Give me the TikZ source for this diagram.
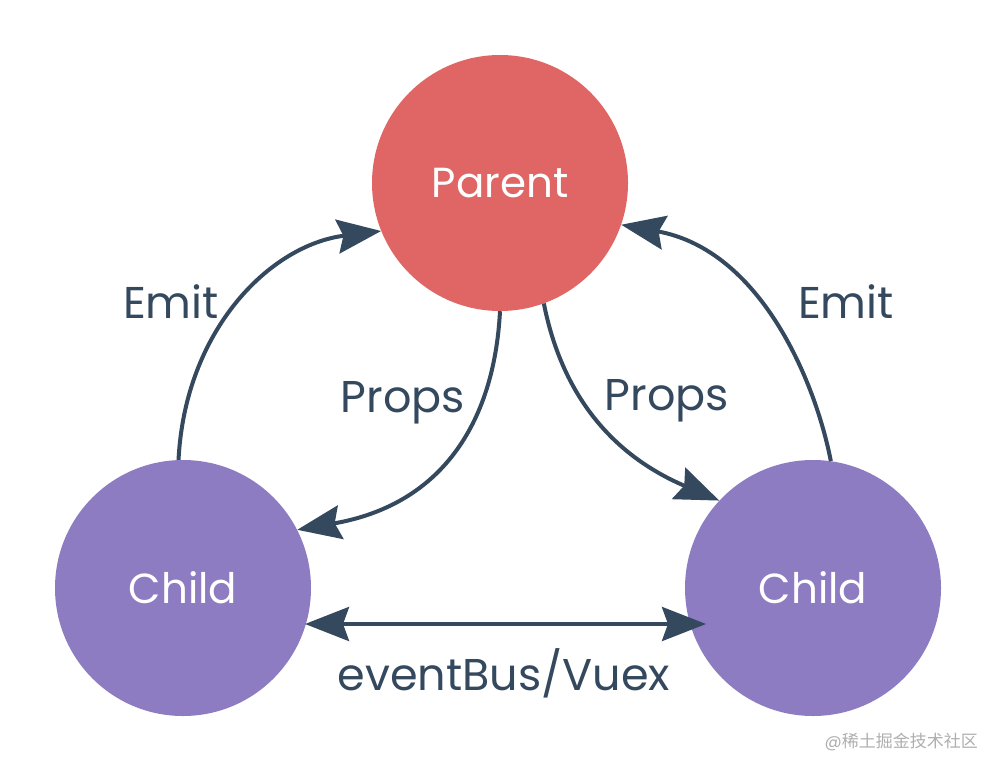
\documentclass[tikz,border=0pt]{standalone}
\usepackage{fontspec}
\setmainfont{Poppins}
\newfontfamily\cjk{Noto Sans CJK SC}
\usetikzlibrary{arrows.meta}
\definecolor{parentred}{RGB}{224,102,102}
\definecolor{childpurple}{RGB}{142,124,195}
\definecolor{ink}{RGB}{52,73,94}
\definecolor{wm}{RGB}{175,175,175}
\tikzset{
  headtip/.tip={Stealth[length=44pt, width=34pt, inset=6pt]},
  bubble/.style={circle, minimum size=256pt, inner sep=0pt, text=white, font=\fontsize{42}{50}\selectfont},
  conn/.style={draw=ink, line width=4pt, -headtip},
  bconn/.style={draw=ink, line width=4pt, headtip-headtip},
  lbl/.style={text=ink, font=\fontsize{44.5}{50}\selectfont, inner sep=0pt}
}
\begin{document}
\begin{tikzpicture}[x=1pt, y=-1pt]
\useasboundingbox (0,0) rectangle (1000,773);
\fill[white] (0,0) rectangle (1000,773);
\node[bubble, fill=parentred] (P) at (500,183) {Parent};
\node[bubble, fill=childpurple] (L) at (183,588) {Child};
\node[bubble, fill=childpurple] (R) at (813,588) {Child};
\coordinate (bl) at (305,624);
\coordinate (br) at (706,624);
% emit left
\draw[conn] (L.92) .. controls (185,330) and (270,245) .. (P.202);
% props left
\draw[conn] (P.270) .. controls (494,425) and (440,505) .. (L.27);
% props right
\draw[conn] (P.290) .. controls (562,395) and (612,455) .. (R.137);
% emit right
\draw[conn] (R.82) .. controls (815,380) and (760,250) .. (P.341);
% bus
\draw[bconn] (bl) -- (br);
\node[lbl] (e1) at (171,302) {Emit};
\node[lbl] (p1) at (403,403) {Props};
\node[lbl] (p2) at (667,401) {Props};
\node[lbl] (e2) at (846,302) {Emit};
\node[lbl] (bus) at (504,673) {eventBus/Vuex};
\node[text=wm, font=\fontsize{17}{20}\selectfont, anchor=east, inner sep=0pt] (w) at (978,742) {@{\cjk 稀土掘金技术社区}};
\end{tikzpicture}
\end{document}
